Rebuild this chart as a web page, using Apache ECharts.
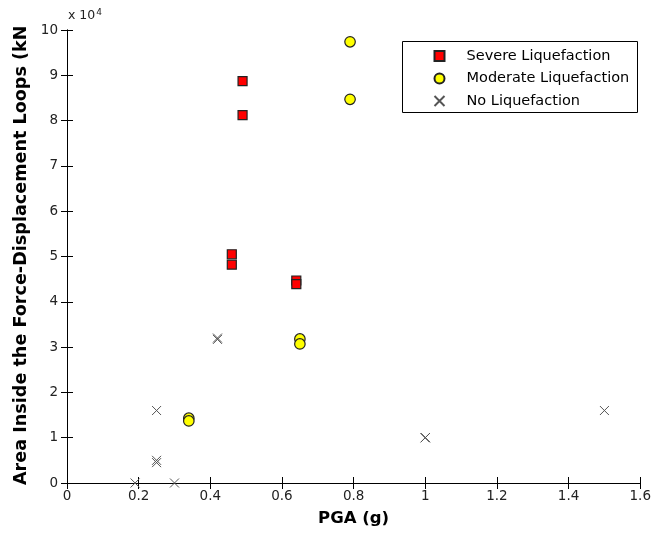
<!DOCTYPE html>
<html>
<head>
<meta charset="utf-8">
<script src="https://cdn.jsdelivr.net/npm/echarts@6/dist/echarts.min.js"></script>
<style>
html,body{margin:0;padding:0;background:#fff;}
#chart{width:654px;height:537px;}
</style>
</head>
<body>
<div id="chart"></div>
<script>
// PGA (g) and loop area (kNm)
var severePGA  = [0.49, 0.49, 0.46, 0.46, 0.64, 0.64];
var severeArea = [88700, 81200, 50500, 48200, 44700, 43900];
var moderatePGA  = [0.79, 0.79, 0.65, 0.65, 0.34, 0.34];
var moderateArea = [97400, 84700, 31800, 30700, 14300, 13700];
var nonePGA  = [0.42, 0.42, 0.25, 0.25, 0.25, 0.19, 0.30, 1.0, 1.0, 1.0, 1.5];
var noneArea = [32000, 31700, 16000, 5000, 4500, 0, 0, 10000, 10000, 10000, 16000];
var seriesNames = ['Severe Liquefaction', 'Moderate Liquefaction', 'No Liquefaction'];
var xTitle = 'PGA (g)';
var yTitle = 'Area Inside the Force-Displacement Loops (kNm)';
var yScaleLabel = 'x 10';
var yScaleExp = '4';

function pairs(xs, ys) { return xs.map(function (x, i) { return [x, ys[i]]; }); }

var FONT = 'DejaVu Sans';
var chart = echarts.init(document.getElementById('chart'), null, {renderer: 'canvas'});

var tickStyle = {show: true, inside: true, length: 6, lineStyle: {color: '#000', width: 1}};
var lineStyle = {show: true, lineStyle: {color: '#000', width: 1}};

var xCommon = {type: 'value', min: 0, max: 1.6, interval: 0.2, splitLine: {show: false},
  axisLine: lineStyle, axisTick: tickStyle};
var yCommon = {type: 'value', min: 0, max: 100000, interval: 10000, splitLine: {show: false},
  axisLine: lineStyle, axisTick: tickStyle};

var crossPath = 'path://M0,0L10,10M10,0L0,10';

chart.setOption({
  animation: false,
  backgroundColor: '#fff',
  grid: {left: 67, right: 11, top: 30, bottom: 54, containLabel: false},
  xAxis: [
    Object.assign({}, xCommon, {position: 'bottom',
      axisLabel: {color: '#222', fontFamily: FONT, fontSize: 13.5, margin: 6},
      name: xTitle, nameLocation: 'middle', nameGap: 27,
      nameTextStyle: {color: '#000', fontFamily: FONT, fontWeight: 'bold', fontSize: 16.5}}),
    Object.assign({}, xCommon, {position: 'top', axisLabel: {show: false}})
  ],
  yAxis: [
    Object.assign({}, yCommon, {position: 'left',
      axisLabel: {color: '#222', fontFamily: FONT, fontSize: 13.5, margin: 9,
        formatter: function (v) { return String(Math.round(v / 10000)); }}}),
    Object.assign({}, yCommon, {position: 'right', axisLabel: {show: false}})
  ],
  legend: {
    orient: 'vertical', left: 427, top: 43,
    itemWidth: 10, itemHeight: 10, itemGap: 6.5,
    textStyle: {fontFamily: FONT, fontSize: 14.5, color: '#000', lineHeight: 16, padding: [0, 0, 0, 17]},
    data: [
      {name: seriesNames[0], icon: 'rect'},
      {name: seriesNames[1], icon: 'circle'},
      {name: seriesNames[2], icon: crossPath}
    ]
  },
  graphic: [
    {type: 'rect', left: 402, top: 41, z: 0, shape: {width: 235, height: 71},
      style: {fill: '#fff', stroke: '#000', lineWidth: 1}},
    {type: 'text', x: 21, y: 485, rotation: Math.PI / 2, z: 5,
      style: {text: yTitle, fontFamily: FONT, fontWeight: 'bold', fontSize: 17.6,
        fill: '#000', align: 'left', verticalAlign: 'middle'}},
    {type: 'rect', left: 0, top: 0, z: 10, shape: {width: 40, height: 26},
      style: {fill: '#fff'}},
    {type: 'text', left: 68, top: 8, z: 5,
      style: {rich: {b: {fontFamily: FONT, fontSize: 12.5, fill: '#222'},
                     s: {fontFamily: FONT, fontSize: 9, fill: '#222', verticalAlign: 'top', padding: [0,0,6,1]}},
        text: '{b|' + yScaleLabel + '}{s|' + yScaleExp + '}'}}
  ],
  series: [
    {name: seriesNames[0], type: 'scatter', symbol: 'rect', symbolSize: 9, z: 3,
      itemStyle: {color: '#ff0000', borderColor: '#222', borderWidth: 1.2, opacity: 1},
      data: pairs(severePGA, severeArea)},
    {name: seriesNames[1], type: 'scatter', symbol: 'circle', symbolSize: 10.5, z: 3,
      itemStyle: {color: '#ffff00', borderColor: '#222', borderWidth: 1.2, opacity: 1},
      data: pairs(moderatePGA, moderateArea)},
    {name: seriesNames[2], type: 'scatter', symbol: crossPath, symbolSize: 9, z: 3,
      itemStyle: {color: 'none', borderColor: '#555', borderWidth: 1, opacity: 1},
      data: pairs(nonePGA, noneArea)}
  ]
});
</script>
</body>
</html>
